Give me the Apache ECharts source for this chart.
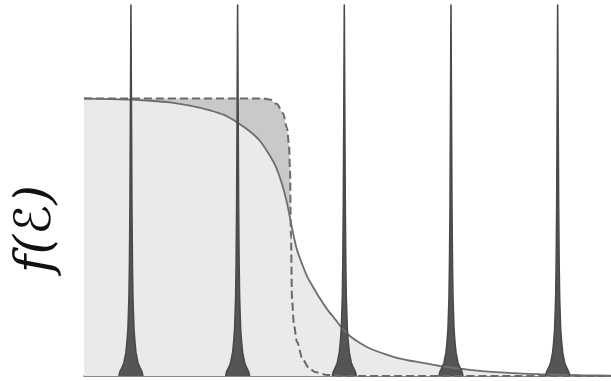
<!DOCTYPE html>
<html>
<head>
<meta charset="utf-8">
<script src="https://cdn.jsdelivr.net/npm/echarts@6/dist/echarts.min.js"></script>
<style>
html,body{margin:0;padding:0;background:#fff;}
#c{width:611px;height:381px;}
</style>
</head>
<body>
<div id="c"></div>
<script>
// Energy axis (spike spacing = 1 unit), occupation f(E)
var solidX = [0.560, 0.804, 0.991, 1.179, 1.366, 1.554, 1.741, 1.882, 2.004, 2.116, 2.210, 2.304, 2.360, 2.416, 2.463, 2.510, 2.557, 2.604, 2.650, 2.707, 2.772, 2.838, 2.913, 2.978, 3.053, 3.147, 3.241, 3.382, 3.522, 3.710, 3.897, 4.178, 4.460, 4.834, 5.209, 5.500];
var solidF = [1.000, 0.998, 0.996, 0.992, 0.986, 0.974, 0.957, 0.939, 0.912, 0.881, 0.847, 0.793, 0.753, 0.692, 0.623, 0.533, 0.454, 0.404, 0.360, 0.321, 0.279, 0.241, 0.205, 0.173, 0.144, 0.119, 0.099, 0.079, 0.063, 0.049, 0.036, 0.022, 0.013, 0.0065, 0.003, 0.0014];

var dashX = [0.56, 2.238, 2.304, 2.369, 2.425, 2.463, 2.482, 2.491, 2.500, 2.510, 2.528, 2.556, 2.612, 2.669, 2.725, 2.838, 2.960, 5.5];
var dashF = [1.000, 1.000, 0.996, 0.980, 0.948, 0.894, 0.832, 0.742, 0.500, 0.274, 0.184, 0.123, 0.058, 0.029, 0.014, 0.004, 0.000, 0.000];

// Sharp resonance peaks
var spikeCenters = [1, 2, 3, 4, 5];
var spikeOffsets = [-0.1125, -0.1031, -0.0844, -0.0656, -0.0469, -0.0375, -0.0281, -0.0187, -0.0141, -0.0094, -0.0047, 0, 0.0047, 0.0094, 0.0141, 0.0187, 0.0281, 0.0375, 0.0469, 0.0656, 0.0844, 0.1031, 0.1125];
var spikeHeights = [0, 0.016, 0.03, 0.048, 0.085, 0.12, 0.17, 0.28, 0.4, 0.6, 0.95, 1.337, 0.95, 0.6, 0.4, 0.28, 0.17, 0.12, 0.085, 0.048, 0.03, 0.016, 0];

var yLabel = 'f(ℰ)';

function zip(xs, ys) { return xs.map(function (x, i) { return [x, ys[i]]; }); }

var series = [
  { type: 'line', data: zip(dashX, dashF), symbol: 'none', smooth: 0.3, smoothMonotone: 'x',
    lineStyle: { width: 0, opacity: 0 }, areaStyle: { color: '#c7cac9', opacity: 1 }, silent: true },
  { type: 'line', data: zip(solidX, solidF), symbol: 'none', smooth: 0.25,
    lineStyle: { width: 0, opacity: 0 }, areaStyle: { color: '#e8ebea', opacity: 1 }, silent: true },
  { type: 'line', data: zip(solidX, solidF), symbol: 'none', smooth: 0.25,
    lineStyle: { width: 1.8, color: '#6e6e6e' }, silent: true },
  { type: 'line', data: zip(dashX, dashF), symbol: 'none', smooth: 0.3, smoothMonotone: 'x',
    lineStyle: { width: 2, color: '#6a6a6a', type: [8, 4] }, silent: true }
];
spikeCenters.forEach(function (c) {
  series.push({
    type: 'line', symbol: 'none', smooth: false, silent: true,
    data: spikeOffsets.map(function (o, i) { return [c + o, spikeHeights[i]]; }),
    lineStyle: { width: 1.6, color: '#4a4a4a', join: 'round' },
    areaStyle: { color: '#555555', opacity: 1 }
  });
});

var chart = echarts.init(document.getElementById('c'), null, { renderer: 'canvas' });
chart.setOption({
  animation: false,
  backgroundColor: '#ffffff',
  grid: { left: 84, right: 0, top: 0, bottom: 5 },
  xAxis: {
    type: 'value', min: 0.56, max: 5.5,
    axisLine: { show: true, lineStyle: { color: '#8a8a8a', width: 2 } },
    axisTick: { show: false }, axisLabel: { show: false }, splitLine: { show: false }
  },
  yAxis: { type: 'value', min: 0, max: 1.355, show: false, splitLine: { show: false } },
  graphic: [{
    type: 'text', x: 37, y: 229, rotation: Math.PI / 2,
    style: { text: yLabel, font: 'italic 50px "DejaVu Serif", "DejaVu Sans", serif',
      fill: '#111', align: 'center', verticalAlign: 'middle' }
  }],
  series: series
});
</script>
</body>
</html>
